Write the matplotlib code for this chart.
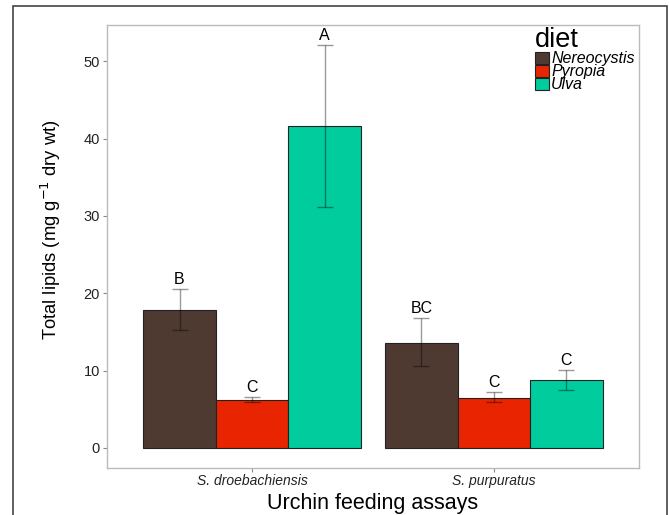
import matplotlib.pyplot as plt
import numpy as np
from matplotlib.patches import Patch, Rectangle

plt.rcParams['font.family'] = ['Liberation Sans', 'DejaVu Sans']

# data
urchins = ['S. droebachiensis', 'S. purpuratus']
diets = ['Nereocystis', 'Pyropia', 'Ulva']
colors = ['#4f3a31', '#e82500', '#00cc9e']

means = {
    'Nereocystis': [17.8, 13.6],
    'Pyropia': [6.2, 6.5],
    'Ulva': [41.6, 8.8],
}
lower = {
    'Nereocystis': [15.2, 10.6],
    'Pyropia': [5.9, 5.9],
    'Ulva': [31.2, 7.5],
}
upper = {
    'Nereocystis': [20.6, 16.8],
    'Pyropia': [6.6, 7.2],
    'Ulva': [52.1, 10.1],
}
letters = {
    'Nereocystis': ['B', 'BC'],
    'Pyropia': ['C', 'C'],
    'Ulva': ['A', 'C'],
}

fig = plt.figure(figsize=(6.69, 5.15), dpi=100)
ax = fig.add_axes([107 / 669, 47 / 515, 532 / 669, 443 / 515])

x = np.arange(len(urchins))
width = 0.3
cap = 0.033

for i, diet in enumerate(diets):
    pos = x + (i - 1) * width
    ax.bar(pos, means[diet], width=width, color=colors[i],
           edgecolor='#222222', linewidth=0.8, zorder=2)
    ax.vlines(pos, lower[diet], upper[diet], color='black', alpha=0.4,
              linewidth=1.0, zorder=3)
    ax.hlines(lower[diet], pos - cap, pos + cap, color='black', alpha=0.4,
              linewidth=1.0, zorder=3)
    ax.hlines(upper[diet], pos - cap, pos + cap, color='black', alpha=0.4,
              linewidth=1.0, zorder=3)
    for p, u, lab in zip(pos, upper[diet], letters[diet]):
        ax.annotate(lab, (p, u), xytext=(0, 1.5), textcoords='offset points',
                    ha='center', va='bottom', fontsize=11.5, zorder=4)

ax.set_xlim(-0.6, 1.6)
ax.set_ylim(-2.6, 54.7)
ax.set_yticks([0, 10, 20, 30, 40, 50])
ax.set_xticks(x)
ax.set_xticklabels(urchins, fontstyle='italic', fontsize=10)
ax.tick_params(axis='y', labelsize=10.5, length=3, pad=2)
ax.tick_params(axis='x', length=3, pad=1)
ax.tick_params(colors='#888888', width=0.8, labelcolor='#222222')

for s in ax.spines.values():
    s.set_color('#bbbbbb')
    s.set_linewidth(1.0)

ax.set_xlabel('Urchin feeding assays', fontsize=15.5, labelpad=4)
ax.set_ylabel(r'Total lipids (mg g$^{-1}$ dry wt)', fontsize=13.2)
ax.yaxis.set_label_coords(-0.082, 0.537)

handles = [Patch(facecolor=c, edgecolor='#222222', linewidth=0.8) for c in colors]
leg = ax.legend(handles, diets, title='diet', loc='upper left',
                bbox_to_anchor=(0.805, 0.995), frameon=False,
                prop={'style': 'italic', 'size': 11.5},
                title_fontsize=19.5, handlelength=0.85, handleheight=0.8,
                handletextpad=0.15, labelspacing=-0.12, borderpad=0,
                borderaxespad=0)
leg._legend_box.align = 'left'

# outer frame around the figure
fig.patches.append(Rectangle((12.5 / 669, -0.1), 654 / 669, 1.1 - 6.5 / 515,
                             transform=fig.transFigure, fill=False,
                             edgecolor='#444444', linewidth=1.2))

fig.savefig('out.png', dpi=100)
